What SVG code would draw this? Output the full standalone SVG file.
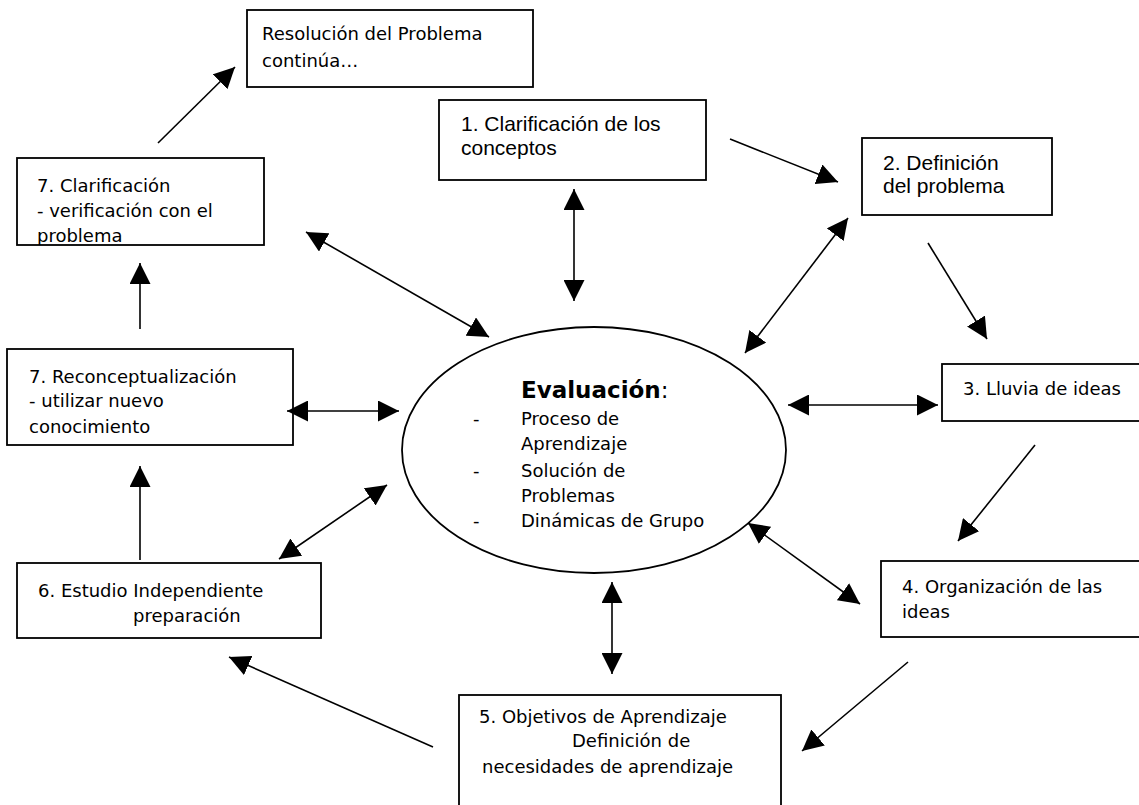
<svg xmlns="http://www.w3.org/2000/svg" width="1139" height="805" viewBox="0 0 1139 805">
<style>
.box{fill:#fff;stroke:#000;stroke-width:1.8}
.t{font-family:"DejaVu Sans",Verdana,sans-serif;font-size:18px;fill:#000}
.a{font-family:"Liberation Sans",Arial,sans-serif;font-size:21px;fill:#000}
.c{stroke:#000;stroke-width:1.6;fill:none}
.e{marker-end:url(#ah)}
.b{marker-start:url(#ah);marker-end:url(#ah)}
</style>
<defs>
<marker id="ah" viewBox="0 0 20 20" refX="20" refY="10" markerWidth="21" markerHeight="21" markerUnits="userSpaceOnUse" orient="auto-start-reverse">
<path d="M0,0 L20,10 L0,20 z" fill="#000"/>
</marker>
<clipPath id="clip7c"><rect x="17" y="158" width="247" height="87"/></clipPath>
</defs>
<rect width="1139" height="805" fill="#fff"/>

<g id="resolucion">
<rect class="box" x="247" y="10" width="286" height="77"/>
<text class="t" x="262" y="40">Resolución del Problema</text>
<text class="t" x="262" y="67">continúa…</text>
</g>

<g id="n1">
<rect class="box" x="439" y="100" width="267" height="80"/>
<text class="a" x="461" y="131">1. Clarificación de los</text>
<text class="a" x="461" y="155">conceptos</text>
</g>

<g id="n2">
<rect class="box" x="862" y="138" width="190" height="77"/>
<text class="a" x="883" y="170">2. Definición</text>
<text class="a" x="883" y="193">del problema</text>
</g>

<g id="n3">
<rect class="box" x="942" y="364" width="210" height="57"/>
<text class="t" x="963" y="395">3. Lluvia de ideas</text>
</g>

<g id="n4">
<rect class="box" x="881" y="561" width="270" height="76"/>
<text class="t" x="902" y="593">4. Organización de las</text>
<text class="t" x="902" y="618">ideas</text>
</g>

<g id="n5">
<rect class="box" x="459" y="695" width="322" height="120"/>
<text class="t" x="479" y="723">5. Objetivos de Aprendizaje</text>
<text class="t" x="572" y="747">Definición de</text>
<text class="t" x="482" y="773">necesidades de aprendizaje</text>
</g>

<g id="n6">
<rect class="box" x="17" y="563" width="304" height="75"/>
<text class="t" x="38" y="597">6. Estudio Independiente</text>
<text class="t" x="133" y="622">preparación</text>
</g>

<g id="n7r">
<rect class="box" x="7" y="349" width="286" height="96"/>
<text class="t" x="29" y="383">7. Reconceptualización</text>
<text class="t" x="29" y="407">- utilizar nuevo</text>
<text class="t" x="29" y="433">conocimiento</text>
</g>

<g id="n7c">
<rect class="box" x="17" y="158" width="247" height="87"/>
<g clip-path="url(#clip7c)">
<text class="t" x="37" y="192">7. Clarificación</text>
<text class="t" x="37" y="217">- verificación con el</text>
<text class="t" x="37" y="242">problema</text>
</g>
</g>

<g id="evaluacion">
<ellipse cx="594" cy="450" rx="192" ry="123" fill="#fff" stroke="#000" stroke-width="1.8"/>
<text class="t" x="521" y="398" style="font-size:23px"><tspan font-weight="bold">Evaluación</tspan>:</text>
<text class="t" x="473" y="425">-</text>
<text class="t" x="521" y="425">Proceso de</text>
<text class="t" x="521" y="450">Aprendizaje</text>
<text class="t" x="473" y="477">-</text>
<text class="t" x="521" y="477">Solución de</text>
<text class="t" x="521" y="502">Problemas</text>
<text class="t" x="473" y="527">-</text>
<text class="t" x="521" y="527">Dinámicas de Grupo</text>
</g>

<g id="connectors">
<line class="c e" x1="158" y1="143" x2="235" y2="67"/>
<line class="c e" x1="730" y1="139" x2="838" y2="182"/>
<line class="c b" x1="574" y1="189" x2="574" y2="301"/>
<line class="c b" x1="848" y1="218" x2="745" y2="353"/>
<line class="c e" x1="928" y1="243" x2="987" y2="339"/>
<line class="c b" x1="788" y1="405" x2="938" y2="405"/>
<line class="c e" x1="1035" y1="445" x2="958" y2="541"/>
<line class="c b" x1="748" y1="523" x2="860" y2="604"/>
<line class="c e" x1="908" y1="662" x2="802" y2="751"/>
<line class="c b" x1="612" y1="582" x2="612" y2="674"/>
<line class="c e" x1="433" y1="747" x2="229" y2="657"/>
<line class="c b" x1="387" y1="485" x2="279" y2="559"/>
<line class="c e" x1="140" y1="560" x2="140" y2="466"/>
<line class="c b" x1="287" y1="411" x2="399" y2="411"/>
<line class="c e" x1="140" y1="329" x2="140" y2="263"/>
<line class="c b" x1="306" y1="232" x2="489" y2="337"/>
</g>
</svg>
